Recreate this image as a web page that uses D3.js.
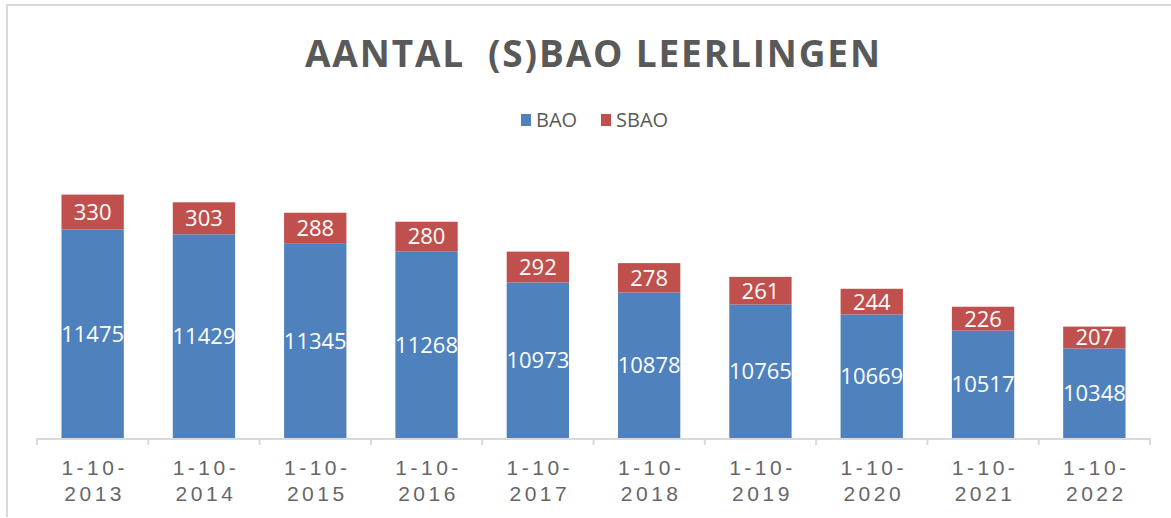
<!DOCTYPE html>
<html>
<head>
<meta charset="utf-8">
<script src="https://cdn.jsdelivr.net/npm/d3@7"></script>
<style>
    body { margin: 0; background: #fff; }
    #chart svg { display: block; font-family: "Open Sans", "Noto Sans", sans-serif; }
</style>
</head>
<body>
<div id="chart"></div>
<script>
// data
var years = ["2013", "2014", "2015", "2016", "2017", "2018", "2019", "2020", "2021", "2022"];
var baoValues = [11475, 11429, 11345, 11268, 10973, 10878, 10765, 10669, 10517, 10348];
var sbaoValues = [330, 303, 288, 280, 292, 278, 261, 244, 226, 207];
var seriesNames = ["BAO", "SBAO"];
var seriesColors = ["#4F81BD", "#C0504D"];
var yDomain = [9500, 12000];

function init() {
    var w = 1171;
    var h = 518;
    var textGrey = "#595959";

    var svg = d3.select("#chart")
        .append("svg")
        .attr("width", w)
        .attr("height", h);

    // chart area border (top + left visible)
    svg.append("path")
        .attr("d", "M7,517 L7,5 L1171,5")
        .attr("fill", "none")
        .attr("stroke", "#d9d9d9")
        .attr("stroke-width", 2);

    // title
    svg.append("text")
        .attr("x", 305)
        .attr("y", 67)
        .attr("textLength", 575)
        .attr("lengthAdjust", "spacing")
        .attr("font-size", 37)
        .attr("font-weight", "bold")
        .attr("fill", textGrey)
        .style("white-space", "pre")
        .text("AANTAL  (S)BAO LEERLINGEN");

    // build stacked rows
    var rows = years.map(function (y, i) {
        return { year: y, BAO: baoValues[i], SBAO: sbaoValues[i] };
    });
    var stacked = d3.stack().keys(seriesNames)(rows);

    var xScale = d3.scaleBand()
        .domain(years)
        .range([37, 1150])
        .paddingInner(0.44)
        .paddingOuter(0.22);

    var yScale = d3.scaleLinear()
        .domain(yDomain)
        .range([438, 174]);

    var color = d3.scaleOrdinal().domain(seriesNames).range(seriesColors);

    // bars
    var layers = svg.selectAll(".layer")
        .data(stacked)
        .enter()
        .append("g")
        .attr("class", "layer")
        .attr("fill", function (d) { return color(d.key); });

    layers.selectAll("rect")
        .data(function (d) { return d; })
        .enter()
        .append("rect")
        .attr("x", function (d) { return xScale(d.data.year); })
        .attr("width", xScale.bandwidth())
        .attr("y", function (d) { return yScale(Math.max(d[1], yDomain[0])); })
        .attr("height", function (d) {
            return yScale(Math.max(d[0], yDomain[0])) - yScale(Math.max(d[1], yDomain[0]));
        });

    // value labels
    layers.selectAll("text")
        .data(function (d) { return d; })
        .enter()
        .append("text")
        .attr("x", function (d) { return xScale(d.data.year) + xScale.bandwidth() / 2; })
        .attr("y", function (d) {
            var top = yScale(Math.max(d[1], yDomain[0]));
            var bot = yScale(Math.max(d[0], yDomain[0]));
            return (top + bot) / 2;
        })
        .attr("dy", "0.36em")
        .attr("text-anchor", "middle")
        .attr("font-size", 22)
        .attr("fill", "#fff")
        .text(function (d) { return d[1] - d[0]; });

    // x axis
    var xAxis = d3.axisBottom(xScale).tickSize(0).tickPadding(0);
    var axisG = svg.append("g")
        .attr("transform", "translate(0," + yScale(yDomain[0]) + ")")
        .call(xAxis);

    axisG.select(".domain")
        .attr("stroke", "#d9d9d9")
        .attr("stroke-width", 2)
        .attr("d", "M" + xScale.range()[0] + ",1H" + xScale.range()[1]);

    axisG.selectAll(".tick text").remove();
    axisG.selectAll(".tick").each(function (d) {
        var t = d3.select(this).append("text")
            .attr("fill", "#666")
            .attr("font-size", 21)
            .attr("letter-spacing", 3.5)
            .attr("text-anchor", "middle");
        t.append("tspan").attr("x", 2).attr("y", 37).text("1-10-");
        t.append("tspan").attr("x", 2).attr("y", 63).text(d);
    });

    // boundary ticks
    var bounds = years.map(function (y) { return xScale(y) - xScale.step() * xScale.paddingInner() / 2; });
    bounds.push(xScale.range()[1]);
    axisG.selectAll(".bound")
        .data(bounds)
        .enter()
        .append("line")
        .attr("class", "bound")
        .attr("x1", function (d) { return d; })
        .attr("x2", function (d) { return d; })
        .attr("y1", 0)
        .attr("y2", 7)
        .attr("stroke", "#d9d9d9")
        .attr("stroke-width", 2);

    // legend
    var legend = svg.append("g").attr("class", "legend");
    var legendX = [521, 601];
    var legendItem = legend.selectAll(".legend-item")
        .data(seriesNames)
        .enter()
        .append("g")
        .attr("class", "legend-item")
        .attr("transform", function (d, i) { return "translate(" + legendX[i] + ",114)"; });

    legendItem.append("rect")
        .attr("width", 10)
        .attr("height", 12)
        .attr("fill", function (d) { return color(d); });

    legendItem.append("text")
        .attr("x", 15)
        .attr("y", 13)
        .attr("font-size", 20)
        .attr("fill", textGrey)
        .text(function (d) { return d; });
}

window.onload = init;
</script>
</body>
</html>
